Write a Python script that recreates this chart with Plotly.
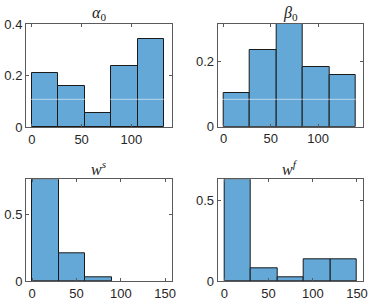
import plotly.graph_objects as go

# ---- data (probability-normalised histograms) ----
alpha_edges = [0, 26.7, 53.3, 80, 106.7, 133.3]
alpha_vals = [0.211, 0.158, 0.053, 0.237, 0.342]

beta_edges = [0, 28, 56, 84, 112, 140]
beta_vals = [0.105, 0.237, 0.316, 0.184, 0.158]

ws_edges = [0, 30, 60, 90]
ws_vals = [0.763, 0.211, 0.026]

wf_edges = [0, 30, 60, 90, 120, 150]
wf_vals = [0.632, 0.079, 0.026, 0.132, 0.132]

titles = ["<i>α</i><sub>0</sub>", "<i>β</i><sub>0</sub>",
          "<i>w</i><sup><i>s</i></sup>", "<i>w</i><sup><i>f</i></sup>"]

W, H = 374, 307
# axes boxes in pixels: (x0, x1, ytop, ybottom)
boxes = [(26, 172, 24, 127), (217.7, 363, 24, 126.7),
         (26, 171.7, 179.3, 281), (217.7, 363, 179.3, 281)]
xranges = [[-6, 141], [-6.2, 147.5], [-7, 157.5], [-7.5, 156.8]]
yranges = [[0, 0.4], [0, 0.316], [0, 0.763], [0, 0.632]]
yticks = [[0, 0.2, 0.4], [0, 0.2], [0, 0.5], [0, 0.5]]
xticks = [[0, 50, 100], [0, 50, 100], [0, 50, 100, 150], [0, 50, 100, 150]]

data = [(alpha_edges, alpha_vals), (beta_edges, beta_vals),
        (ws_edges, ws_vals), (wf_edges, wf_vals)]

fig = go.Figure()
FACE = "#64a8d8"
AXC = "#5a5a5a"
for i, (edges, vals) in enumerate(data):
    centers = [(edges[k] + edges[k + 1]) / 2 for k in range(len(vals))]
    widths = [edges[k + 1] - edges[k] for k in range(len(vals))]
    sfx = "" if i == 0 else str(i + 1)
    fig.add_trace(go.Bar(x=centers, y=vals, width=widths,
                         marker=dict(color=FACE, line=dict(color="#1a1a1a", width=1)),
                         xaxis="x" + sfx, yaxis="y" + sfx, showlegend=False,
                         cliponaxis=True))
    x0, x1, yt, yb = boxes[i]
    common = dict(showline=True, linecolor=AXC, linewidth=1, mirror="ticks",
                  ticks="inside", ticklen=3, tickcolor=AXC, showgrid=False,
                  zeroline=False, automargin=False,
                  tickfont=dict(family="Liberation Sans, Arial", size=13, color="#262626"))
    fig.update_layout(**{
        "xaxis" + sfx: dict(domain=[x0 / W, x1 / W], range=xranges[i],
                            tickvals=xticks[i], anchor="y" + sfx, **common),
        "yaxis" + sfx: dict(domain=[1 - yb / H, 1 - yt / H], range=yranges[i],
                            tickvals=yticks[i], anchor="x" + sfx, **common),
    })
    fig.add_annotation(text=titles[i], x=(x0 + x1) / 2 / W, y=1 - yt / H,
                       xref="paper", yref="paper", xanchor="center", yanchor="bottom",
                       showarrow=False, yshift=-1,
                       font=dict(family="Liberation Serif, Times New Roman", size=16, color="#1a1a1a"))

# faint horizontal artefact line across top row
for (x0, x1, yt, yb) in boxes[:2]:
    fig.add_shape(type="line", xref="paper", yref="paper",
                  x0=x0 / W, x1=x1 / W, y0=1 - 99.3 / H, y1=1 - 99.3 / H,
                  line=dict(color="rgba(255,255,255,0.55)", width=1))

fig.update_layout(width=W, height=H, margin=dict(l=0, r=0, t=0, b=0),
                  paper_bgcolor="white", plot_bgcolor="white", bargap=0)
fig.write_html("out.html", config={"displayModeBar": False},
               post_script="document.body.style.margin='0';")
